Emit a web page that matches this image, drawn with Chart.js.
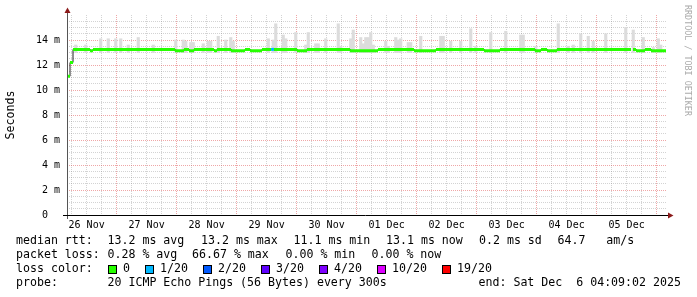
<!DOCTYPE html>
<html><head><meta charset="utf-8">
<script src="https://cdn.jsdelivr.net/npm/chart.js@4/dist/chart.umd.min.js"></script>
<style>html,body{margin:0;padding:0;background:#fff;}canvas{display:block;}</style>
</head><body>
<canvas id="c" width="697" height="297"></canvas>
<script>
// ---- time axis (hours since graph start, start = Wed Nov 26 04:09:02) ----
const startHourOfDay = 4 + 9 / 60 + 2 / 3600;
const spanHours = 240;
const dayLabels = ['26 Nov', '27 Nov', '28 Nov', '29 Nov', '30 Nov', '01 Dec', '02 Dec', '03 Dec', '04 Dec', '05 Dec', '06 Dec'];
const yTickLabels = ['0  ', ' 2 m', ' 4 m', ' 6 m', ' 8 m', '10 m', '12 m', '14 m'];

// ---- smoke (ping spread) per hour slot, in ms ----
const smokeHour = [3, 7, 13, 16, 19, 21, 24, 28, 34, 43, 46, 47, 49, 50, 54, 56, 57, 60, 63, 65, 66, 80, 82, 83, 86, 87, 91, 95, 96, 99, 100, 103, 108, 109, 113, 114, 117, 118, 119, 120, 121, 122, 127, 128, 131, 132, 133, 136, 137, 141, 149, 150, 153, 157, 161, 163, 169, 175, 181, 182, 187, 196, 200, 202, 205, 208, 210, 215, 223, 226, 230, 234, 236, 237];
const smokeTop = [13.6, 13.6, 14.1, 14.1, 14.1, 14.1, 13.6, 14.2, 13.6, 14.0, 14.0, 13.9, 13.8, 13.8, 13.7, 13.9, 13.9, 14.3, 14.0, 14.2, 13.9, 14.1, 14.0, 15.3, 14.4, 14.1, 14.6, 13.6, 14.6, 13.7, 13.7, 14.1, 15.3, 13.5, 14.1, 14.8, 14.2, 13.7, 14.2, 14.2, 14.6, 13.6, 13.9, 13.5, 14.2, 14.0, 14.1, 13.8, 13.8, 14.3, 14.3, 14.3, 13.9, 13.9, 14.9, 13.5, 14.6, 14.7, 14.4, 14.4, 13.5, 15.3, 13.5, 13.6, 14.5, 14.3, 13.9, 14.5, 15.0, 14.8, 14.2, 13.4, 14.1, 13.6];
const smokeLow = [13.0, 13.0, 13.0, 13.0, 13.0, 13.0, 13.0, 13.0, 13.0, 13.0, 13.0, 13.0, 13.0, 13.0, 13.0, 13.0, 13.0, 13.0, 13.0, 13.0, 13.0, 13.0, 13.0, 13.0, 13.0, 13.0, 13.0, 13.0, 13.0, 13.0, 13.0, 13.0, 13.0, 13.0, 13.0, 13.0, 13.0, 13.0, 13.0, 13.0, 13.0, 13.0, 13.0, 13.0, 13.0, 13.0, 13.0, 13.0, 13.0, 13.0, 13.0, 13.0, 13.0, 13.0, 13.0, 13.0, 13.0, 13.0, 13.0, 13.0, 13.0, 13.0, 13.0, 13.0, 13.0, 13.0, 13.0, 13.0, 13.0, 13.0, 13.0, 13.0, 13.0, 13.0];

// ---- median rtt runs (hours), value in ms, loss class index ----
const runStart = [0, 1.2, 2.4, 9.2, 10.4, 43.2, 46.8, 48.8, 50.8, 58.8, 60, 65.6, 71.2, 73.2, 78, 81.6, 82.8, 92, 96, 113.2, 124.4, 138.8, 147.6, 166.8, 173.2, 187.2, 189.6, 192, 196, 226.4, 227.6, 231.2, 233.6];
const runEnd   = [1.2, 2.4, 9.2, 10.4, 43.2, 46.8, 48.8, 50.8, 58.8, 60, 65.6, 71.2, 73.2, 78, 81.6, 82.8, 92, 96, 113.2, 124.4, 138.8, 147.6, 166.8, 173.2, 187.2, 189.6, 192, 196, 225.6, 227.6, 231.2, 233.6, 239.6];
const runValue = [11.1, 12.2, 13.25, 13.15, 13.25, 13.15, 13.25, 13.15, 13.25, 13.15, 13.25, 13.15, 13.25, 13.15, 13.25, 13.25, 13.25, 13.15, 13.25, 13.15, 13.25, 13.15, 13.25, 13.15, 13.25, 13.15, 13.25, 13.15, 13.25, 13.25, 13.15, 13.25, 13.15];
const runLoss  = [0, 0, 0, 0, 0, 0, 0, 0, 0, 0, 0, 0, 0, 0, 0, 1, 0, 0, 0, 0, 0, 0, 0, 0, 0, 0, 0, 0, 0, 0, 0, 0, 0];

const lossColors = ['#26ff00', '#00b8ff', '#0059ff', '#5e00ff', '#7e00ff', '#dd00ff', '#ff0000'];
const lossLabels = ['0', '1/20', '2/20', '3/20', '4/20', '10/20', '19/20'];

// ---- legend texts ----
const legendRtt = [['median rtt:', 16], ['13.2 ms avg', 107.5], ['13.2 ms max', 201], ['11.1 ms min', 293.5], ['13.1 ms now', 386], ['0.2 ms sd', 479], ['64.7   am/s', 557.5]];
const legendLoss = [['packet loss:', 16], ['0.28 % avg', 107.5], ['66.67 % max', 192], ['0.00 % min', 285.5], ['0.00 % now', 371.5]];
const legendBoxX = [108, 145, 203, 261, 319, 377, 442];
const legendProbe = [['probe:', 16], ['20 ICMP Echo Pings (56 Bytes) every 300s', 107.5], ['end: Sat Dec  6 04:09:02 2025', 478.5]];

// ---- build datasets ----
const smokeData = smokeHour.map((h, i) => ({ x: h + 0.5, y: [smokeLow[i], smokeTop[i]] }));
const blackData = [];
for (let i = 0; i < runStart.length; i++) {
  if (i > 0 && runStart[i] !== runEnd[i - 1]) blackData.push({ x: runEnd[i - 1], y: null });
  blackData.push({ x: runStart[i], y: runValue[i] }, { x: runEnd[i], y: runValue[i] });
}
function lossData(k) {
  const d = [];
  for (let i = 0; i < runStart.length; i++) {
    if (runLoss[i] !== k) continue;
    d.push({ x: runStart[i], y: runValue[i] }, { x: runEnd[i], y: runValue[i] }, { x: runEnd[i], y: null });
  }
  return d;
}

const MONO = '"DejaVu Sans Mono", monospace';
const minorGrid = 'rgba(128,128,128,0.35)';
const majorGrid = 'rgba(220,60,60,0.45)';

const decor = {
  id: 'decor',
  afterDraw(chart) {
    const ctx = chart.ctx, a = chart.chartArea;
    ctx.save();
    // axes
    ctx.lineWidth = 1;
    ctx.strokeStyle = '#555';
    ctx.beginPath(); ctx.moveTo(a.left + 0.5, a.top - 2); ctx.lineTo(a.left + 0.5, a.bottom + 4); ctx.stroke();
    ctx.strokeStyle = '#000';
    ctx.beginPath(); ctx.moveTo(a.left - 4, a.bottom + 0.5); ctx.lineTo(a.right + 1, a.bottom + 0.5); ctx.stroke();
    // arrows
    ctx.fillStyle = '#8b1a1a';
    ctx.beginPath(); ctx.moveTo(a.left - 2.5, a.top - 2); ctx.lineTo(a.left + 3.5, a.top - 2); ctx.lineTo(a.left + 0.5, a.top - 7.5); ctx.closePath(); ctx.fill();
    ctx.beginPath(); ctx.moveTo(a.right + 1, a.bottom - 2.5); ctx.lineTo(a.right + 1, a.bottom + 3.5); ctx.lineTo(a.right + 6.5, a.bottom + 0.5); ctx.closePath(); ctx.fill();
    // y title
    ctx.fillStyle = '#000';
    ctx.font = '11.6px ' + MONO;
    ctx.textAlign = 'center'; ctx.textBaseline = 'middle';
    ctx.save(); ctx.translate(11, (a.top + a.bottom) / 2); ctx.rotate(-Math.PI / 2); ctx.fillText('Seconds', 0, 0); ctx.restore();
    // watermark
    ctx.save(); ctx.fillStyle = '#aaaaaa'; ctx.font = '8.4px ' + MONO; ctx.textAlign = 'left';
    ctx.translate(687, 5); ctx.rotate(Math.PI / 2); ctx.fillText('RRDTOOL / TOBI OETIKER', 0, 0); ctx.restore();
    // legend
    ctx.font = '11.6px ' + MONO; ctx.textAlign = 'left'; ctx.textBaseline = 'middle'; ctx.fillStyle = '#000';
    legendRtt.forEach(([t, x]) => ctx.fillText(t, x, 241));
    legendLoss.forEach(([t, x]) => ctx.fillText(t, x, 255));
    ctx.fillText('loss color:', 16, 269);
    legendBoxX.forEach((x, i) => {
      ctx.fillStyle = lossColors[i]; ctx.fillRect(x, 265, 9, 9);
      ctx.strokeStyle = '#000'; ctx.strokeRect(x + 0.5, 265.5, 8, 8);
      ctx.fillStyle = '#000'; ctx.fillText(lossLabels[i], x + 15, 269);
    });
    legendProbe.forEach(([t, x]) => ctx.fillText(t, x, 283));
    ctx.restore();
  }
};

new Chart(document.getElementById('c'), {
  type: 'bar',
  data: {
    datasets: [
      { type: 'line', order: 0, data: lossData(0), borderColor: lossColors[0], borderWidth: 3, pointRadius: 0, spanGaps: false, borderCapStyle: 'butt' },
      { type: 'line', order: 1, data: lossData(1), borderColor: lossColors[1], borderWidth: 3, pointRadius: 0, spanGaps: false, borderCapStyle: 'butt' },
      { type: 'line', order: 2, data: blackData, borderColor: '#202020', borderWidth: 1, pointRadius: 0, spanGaps: false },
      { type: 'bar', order: 3, data: smokeData, backgroundColor: '#dcdcdc', borderWidth: 0, barPercentage: 1, categoryPercentage: 1, grouped: false }
    ]
  },
  options: {
    responsive: false, devicePixelRatio: 1, animation: false,
    layout: { padding: { left: 0, top: 15, right: 30, bottom: 0 } },
    plugins: { legend: { display: false }, tooltip: { enabled: false } },
    scales: {
      x: {
        type: 'linear', min: 0, max: spanHours, offset: false,
        afterFit: s => { s.height = 82; },
        afterBuildTicks: s => {
          const t = [];
          for (let v = 6 - startHourOfDay; v <= spanHours; v += 6) t.push({ value: v });
          s.ticks = t;
        },
        ticks: {
          autoSkip: false, maxRotation: 0, minRotation: 0, padding: 4, color: '#000',
          font: { family: MONO, size: 10 },
          callback: v => {
            const abs = startHourOfDay + v;
            const hod = Math.round(abs) % 24;
            return hod === 12 ? dayLabels[Math.floor(abs / 24)] : '';
          }
        },
        grid: {
          offset: false, drawTicks: false, lineWidth: 1,
          color: c => (Math.round(startHourOfDay + c.tick.value) % 24 === 0 ? majorGrid : minorGrid)
        },
        border: { display: false, dash: [1, 1] }
      },
      y: {
        type: 'linear', min: 0, max: 16,
        afterFit: s => { s.width = 67; },
        afterBuildTicks: s => {
          const t = [];
          for (let v = 0; v <= 15.5; v += 0.5) t.push({ value: v });
          s.ticks = t;
        },
        ticks: {
          autoSkip: false, padding: 7, color: '#000', font: { family: MONO, size: 10 },
          callback: v => (v % 2 === 0 ? yTickLabels[v / 2] : '')
        },
        grid: {
          drawTicks: false, lineWidth: 1,
          color: c => (c.tick.value === 0 ? 'rgba(0,0,0,0)' : (c.tick.value % 2 === 0 ? majorGrid : minorGrid))
        },
        border: { display: false, dash: [1, 1] }
      }
    }
  },
  plugins: [decor]
});
</script>
</body></html>
